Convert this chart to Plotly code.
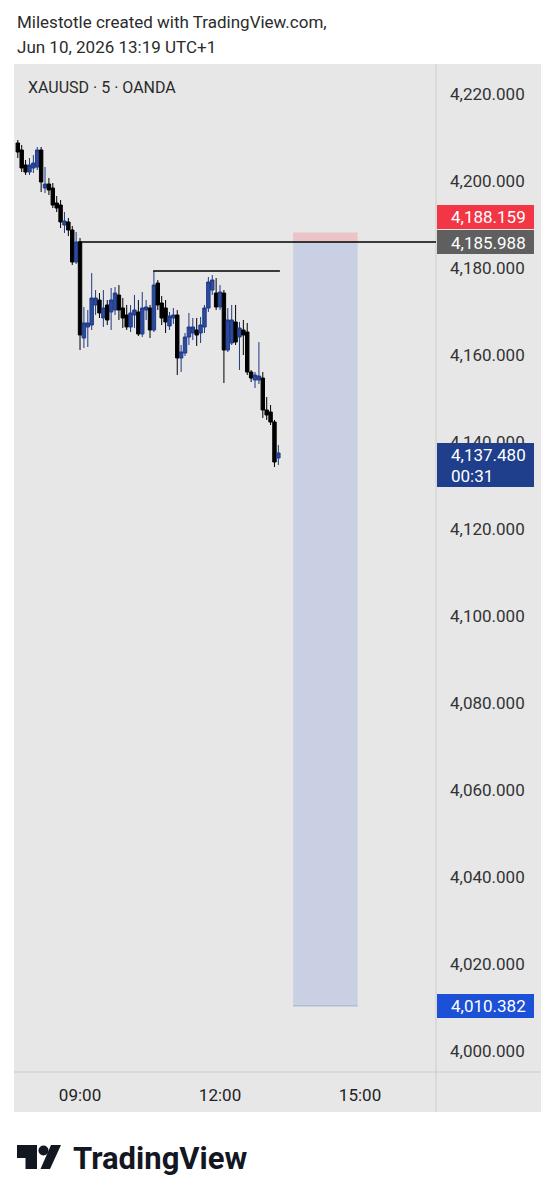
import plotly.graph_objects as go
import pandas as pd

W, H = 556, 1200

# ---------------- data ----------------
times = pd.date_range("2026-06-10 07:40", periods=68, freq="5min")

opens = [4208.74, 4207.13, 4203.68, 4202.07, 4202.99, 4203.22, 4207.13, 4198.39, 4199.31, 4198.39,
         4194.94, 4194.48, 4189.89, 4190.58, 4188.74, 4181.38, 4185.98, 4163.91, 4166.44, 4166.90,
         4171.50, 4172.64, 4168.51, 4171.50, 4169.89, 4170.35, 4173.79, 4170.81, 4169.20, 4166.44,
         4169.20, 4169.89, 4164.83, 4170.35, 4170.81, 4165.75, 4176.55, 4171.95, 4170.81, 4166.67,
         4168.51, 4169.20, 4159.31, 4160.46, 4164.14, 4165.06, 4165.75, 4165.06, 4166.44, 4170.81,
         4174.94, 4174.25, 4171.04, 4174.25, 4161.15, 4162.76, 4167.59, 4164.14, 4165.75, 4165.29,
         4156.09, 4154.25, 4154.25, 4154.71, 4147.36, 4146.90, 4144.60, 4136.32]

highs = [4209.43, 4208.28, 4204.83, 4205.29, 4205.98, 4207.82, 4207.82, 4203.22, 4200.69, 4199.54,
         4196.55, 4195.63, 4192.87, 4191.50, 4189.66, 4188.28, 4186.90, 4171.04, 4170.35, 4178.85,
         4174.94, 4174.25, 4174.94, 4172.64, 4175.40, 4175.63, 4176.09, 4173.10, 4171.50, 4171.50,
         4173.79, 4172.64, 4174.48, 4172.64, 4171.50, 4179.31, 4177.24, 4173.56, 4172.64, 4169.89,
         4170.81, 4170.35, 4162.30, 4165.06, 4169.66, 4168.51, 4168.51, 4168.74, 4171.50, 4177.93,
         4178.39, 4177.70, 4176.09, 4174.94, 4170.81, 4171.50, 4171.50, 4167.59, 4168.05, 4167.36,
         4156.55, 4156.09, 4162.99, 4156.09, 4150.35, 4148.51, 4145.06, 4139.31]

lows = [4205.29, 4202.07, 4201.38, 4201.38, 4201.84, 4202.53, 4197.47, 4197.24, 4196.78, 4193.79,
        4192.87, 4189.20, 4188.05, 4187.36, 4180.69, 4180.92, 4161.15, 4161.61, 4161.84, 4165.75,
        4169.20, 4168.51, 4166.44, 4166.90, 4165.75, 4169.20, 4168.05, 4166.21, 4165.75, 4165.29,
        4166.21, 4164.37, 4164.14, 4168.05, 4163.91, 4165.29, 4170.35, 4166.90, 4165.06, 4165.75,
        4167.13, 4155.40, 4156.09, 4159.77, 4162.30, 4163.45, 4162.07, 4162.76, 4165.06, 4169.89,
        4173.79, 4170.35, 4170.35, 4153.56, 4160.69, 4162.30, 4162.30, 4156.55, 4160.00, 4155.40,
        4153.79, 4152.41, 4153.33, 4145.52, 4145.06, 4143.91, 4134.25, 4134.71]

closes = [4206.67, 4202.99, 4202.07, 4203.68, 4204.14, 4207.13, 4199.77, 4199.31, 4197.93, 4194.48,
          4193.79, 4190.58, 4190.81, 4188.74, 4181.38, 4185.98, 4164.60, 4167.36, 4167.36, 4173.10,
          4173.10, 4169.66, 4170.81, 4168.05, 4172.64, 4174.25, 4170.35, 4168.51, 4166.44, 4169.66,
          4170.35, 4164.83, 4170.81, 4171.04, 4165.75, 4176.09, 4171.50, 4168.51, 4167.59, 4168.97,
          4169.20, 4159.31, 4160.69, 4164.14, 4166.44, 4166.44, 4164.60, 4166.90, 4170.81, 4176.78,
          4177.24, 4171.04, 4174.48, 4161.15, 4168.05, 4168.05, 4162.99, 4166.21, 4164.60, 4156.09,
          4154.71, 4155.40, 4155.17, 4147.36, 4146.21, 4144.60, 4135.40, 4137.48]

y_ticks = [4000, 4020, 4040, 4060, 4080, 4100, 4120, 4140, 4160, 4180, 4200, 4220]
x_ticks = ["2026-06-10 09:00", "2026-06-10 12:00", "2026-06-10 15:00"]
x_tick_text = ["09:00", "12:00", "15:00"]

entry_price = 4185.988
stop_price = 4188.159
target_price = 4010.382
last_price = 4137.480
resistance_price = 4179.31
countdown = "00:31"

header_line1 = "Milestotle created with TradingView.com,"
header_line2 = "Jun 10, 2026 13:19 UTC+1"
symbol_text = "XAUUSD · 5 · OANDA"

# ---------------- helpers (pixel -> paper) ----------------
def X(px):
    return px / W

def Y(py):
    return 1 - py / H

FONT = "Roboto"
PANEL = "#e7e7e7"
SEP = "#cbcbcb"

fig = go.Figure()
fig.add_trace(go.Candlestick(
    x=times, open=opens, high=highs, low=lows, close=closes,
    increasing=dict(line=dict(color="#1f3a86", width=1), fillcolor="#2c4a9e"),
    decreasing=dict(line=dict(color="#000000", width=1), fillcolor="#000000"),
    whiskerwidth=0, showlegend=False, hoverinfo="skip",
))

shapes = []
# panel background
shapes.append(dict(type="rect", xref="paper", yref="paper", x0=X(14), x1=X(541), y0=Y(1112), y1=Y(64),
                   fillcolor=PANEL, line=dict(width=0), layer="below"))
# separators
shapes.append(dict(type="line", xref="paper", yref="paper", x0=X(436), x1=X(436), y0=Y(1112), y1=Y(64),
                   line=dict(color=SEP, width=1), layer="below"))
shapes.append(dict(type="line", xref="paper", yref="paper", x0=X(14), x1=X(541), y0=Y(1072), y1=Y(1072),
                   line=dict(color=SEP, width=1), layer="below"))
# short position tool
pos_x0, pos_x1 = "2026-06-10 13:34", "2026-06-10 14:57"
shapes.append(dict(type="rect", xref="x", yref="y", x0=pos_x0, x1=pos_x1, y0=entry_price, y1=stop_price,
                   fillcolor="#ebc3c9", line=dict(width=0)))
shapes.append(dict(type="rect", xref="x", yref="y", x0=pos_x0, x1=pos_x1, y0=target_price, y1=entry_price,
                   fillcolor="#c9d0e4", line=dict(width=0)))
shapes.append(dict(type="line", xref="x", yref="y", x0=pos_x0, x1=pos_x1, y0=target_price, y1=target_price,
                   line=dict(color="#b3bbd5", width=1.5)))
# horizontal lines
shapes.append(dict(type="line", xref="x", yref="y", x0="2026-06-10 08:57:30", x1="2026-06-10 16:37:42",
                   y0=entry_price, y1=entry_price, line=dict(color="#000000", width=1.5)))
shapes.append(dict(type="line", xref="x", yref="y", x0="2026-06-10 10:34", x1="2026-06-10 13:17",
                   y0=resistance_price, y1=resistance_price, line=dict(color="#000000", width=1.5)))

# price-axis label boxes
def label_box(top, bottom, color):
    shapes.append(dict(type="rect", xref="paper", yref="paper", x0=X(437), x1=X(534), y0=Y(bottom), y1=Y(top),
                       fillcolor=color, line=dict(width=0), layer="above"))

label_box(205, 229, "#f23645")
label_box(230, 254, "#5f5f5f")
label_box(443, 487, "#1f3e8c")
label_box(994, 1018, "#1c50d6")

# TradingView logo icon
INK = "#131722"
shapes.append(dict(type="rect", xref="paper", yref="paper", x0=X(17), x1=X(37), y0=Y(1158), y1=Y(1145),
                   fillcolor=INK, line=dict(width=0)))
shapes.append(dict(type="rect", xref="paper", yref="paper", x0=X(25.5), x1=X(37), y0=Y(1169), y1=Y(1145),
                   fillcolor=INK, line=dict(width=0)))
shapes.append(dict(type="circle", xref="paper", yref="paper", x0=X(38.5), x1=X(48.5), y0=Y(1155.5), y1=Y(1145.5),
                   fillcolor=INK, line=dict(width=0)))
pts = [(51, 1145), (61, 1145), (50, 1169), (40.5, 1169)]
path = "M " + " L ".join(f"{X(a):.5f},{Y(b):.5f}" for a, b in pts) + " Z"
shapes.append(dict(type="path", xref="paper", yref="paper", path=path, fillcolor=INK, line=dict(width=0)))

annotations = []
def text(px, py, s, size=17, color="#333333", anchor="left", bold=False):
    annotations.append(dict(xref="paper", yref="paper", x=X(px), y=Y(py), text=(f"<b>{s}</b>" if bold else s),
                            showarrow=False, xanchor=anchor, yanchor="middle",
                            font=dict(family=FONT, size=size, color=color)))

text(15, 22, header_line1, 17, "#2b2b2b")
text(15, 47, header_line2, 17, "#2b2b2b")
text(26, 87, symbol_text, 16, "#2b2b2b")

text(449, 217, f"{stop_price:,.3f}", 17, "#ffffff")
text(449, 242.5, f"{entry_price:,.3f}", 17, "#ffffff")
text(449, 455, f"{last_price:,.3f}", 17, "#ffffff")
text(449, 476, countdown, 17, "#ffffff")
text(449, 1006, f"{target_price:,.3f}", 17, "#ffffff")

text(71, 1158, "TradingView", 31, INK, bold=True)

fig.update_layout(
    width=W, height=H,
    margin=dict(l=0, r=0, t=0, b=0),
    paper_bgcolor="#ffffff", plot_bgcolor="rgba(0,0,0,0)",
    template="none",
    showlegend=False,
    boxgap=0.12, boxgroupgap=0,
    shapes=shapes, annotations=annotations,
    xaxis=dict(
        domain=[X(14), X(436)], type="date",
        range=["2026-06-10 07:35:06", "2026-06-10 16:37:42"],
        tickvals=x_ticks, ticktext=x_tick_text,
        showgrid=False, zeroline=False, showline=False, ticks="",
        ticklabelstandoff=11,
        tickfont=dict(family=FONT, size=17, color="#222222"),
        rangeslider=dict(visible=False), automargin=False, fixedrange=True,
    ),
    yaxis=dict(
        domain=[Y(1072), Y(64)], side="right", anchor="x",
        range=[3995.17, 4226.90],
        tickvals=y_ticks, ticktext=[f"{v:,.3f}" for v in y_ticks],
        showgrid=False, zeroline=False, showline=False, ticks="",
        ticklabelstandoff=13,
        tickfont=dict(family=FONT, size=17, color="#333333"),
        automargin=False, fixedrange=True,
    ),
)

fig.write_html("out.html")
